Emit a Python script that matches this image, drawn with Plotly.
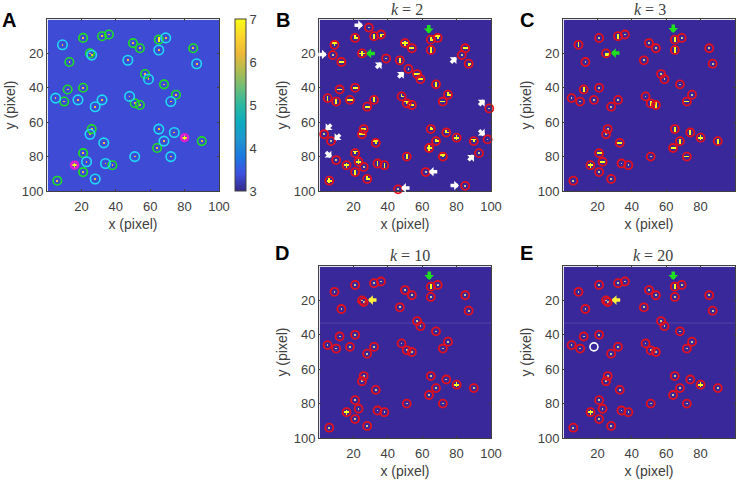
"""
Recreated five-panel spot detection figure.
"""

import plotly.graph_objects as go

# spots seen in every panel, in pixel coordinates
spot_x = [9, 21, 32, 36, 50, 54, 65, 69, 65, 85, 87, 25, 13, 47, 57, 59, 68, 75, 72, 21, 12, 5, 10, 18,
          32, 28, 48, 51, 54, 26, 25, 65, 74, 68, 80, 90, 33, 64, 21, 23, 16, 34, 38, 21, 28, 6, 51, 72]
spot_y = [15, 11, 10, 9, 14, 17, 12, 11, 18, 17, 26, 20, 25, 24, 32, 35, 38, 44, 48, 40, 41, 46, 48, 47,
          47, 51, 45, 49, 50, 64, 67, 64, 66, 71, 69, 71, 72, 75, 78, 83, 85, 84, 85, 89, 93, 94, 80, 80]
# g = green ring, c = cyan ring, m = magenta ring (panel A)
spot_kind = "cggggggccgcggcgcggcggcgccccgggccccmgcggcmcggcgcc"

stamp_b = "TL|r+-LT|-r+-|--|L---||-|-LT---LLL+TT+T++|||L+|T"
stamp_c = "|.|...|.|..#......-.|......||..|||+|----+......-"
stamp_d = "......|" + "." * 27 + "+" + "." * 5 + "+" + "." * 7

# second spot next to (25, 20), only resolved in A, D and E
close_x = 26
close_y = 21

# extra spots picked up in panel B
extra_x = [29, 8, 39, 52, 83, 99, 3, 7, 10, 26, 46, 62, 85, 98, 93]
extra_y = [5, 21, 23, 29, 21, 52, 67, 71, 82, 86, 99, 89, 97, 70, 78]

# arrow tips and directions, panel B
arrow_x = [25.6, 4.5, 36.4, 49.3, 79.9, 96.3, 3.9, 9.1, 7.2, 96.3, 90.1, 63.8, 81.4, 47.7]
arrow_y = [3.6, 20.6, 25.3, 30.8, 22.2, 47.0, 64.6, 70.4, 80.5, 67.8, 79.0, 88.8, 96.8, 98.2]
arrow_dir = ["r", "r", "ur", "ur", "ur", "ur", "dl", "dl", "dr", "dr", "ur", "l", "r", "l"]

# ring left empty in panel E
missed_x = 18
missed_y = 47
faint_row = 33

tick_vals = [20, 40, 60, 80, 100]
cbar_ticks = [3, 4, 5, 6, 7]

PARULA = [
    [0.0, "#352a87"], [0.1, "#3f50e0"], [0.2, "#1b78e0"], [0.3, "#1e96d0"],
    [0.4, "#0cacc0"], [0.5, "#2cb8a0"], [0.6, "#6cbe78"], [0.7, "#b0bc50"],
    [0.8, "#eeb838"], [0.9, "#fad52c"], [1.0, "#f9fb15"],
]
BINARY = [[0.0, "#39289a"], [0.1, "#46359f"], [0.6, "#c8c890"], [1.0, "#ffff20"]]

TEXT_COLOR = "#404040"
FONT = "Liberation Sans"
RED = "#e3101c"
GREEN = "#1fe01f"
CYAN = "#1fdcf5"
MAGENTA = "#e01fd0"
YELLOW = "#fff23c"
WHITE = "#ffffff"

STAMPS = {
    ".": [(0, 0)],
    "-": [(0, 0), (-1, 0), (1, 0)],
    "|": [(0, 0), (0, -1), (0, 1)],
    "+": [(0, 0), (-1, 0), (1, 0), (0, -1), (0, 1)],
    "T": [(0, 0), (-1, -1), (0, -1), (1, -1)],
    "L": [(0, 0), (0, -1), (1, 0)],
    "r": [(0, 0), (1, 0), (0, 1)],
    "#": [(0, 0), (1, 0), (0, 1), (1, 1)],
}
ARROW_TAIL = {
    "r": (-10, 0), "l": (10, 0), "d": (0, -10),
    "ur": (-7, 7), "dl": (7, -7), "dr": (-7, -7),
}

# x0, x1, y0, y1 of each plot frame, in page pixels
W, H = 745, 480
PANELS = {
    "A": (47, 219, 19, 191),
    "B": (319, 491, 19, 191),
    "C": (563, 735, 19, 191),
    "D": (319, 491, 266, 438),
    "E": (563, 735, 266, 438),
}


def build_image(xs, ys, stamps, base, dot, full):
    z = [[base] * 100 for _ in range(100)]
    for x, y, s in zip(xs, ys, stamps):
        value = dot if s == "." else full
        for dx, dy in STAMPS[s]:
            if 1 <= x + dx <= 100 and 1 <= y + dy <= 100:
                z[y + dy - 1][x + dx - 1] = value
    return z


def add_image(fig, idx, z, colorscale, zmin, zmax, colorbar=None):
    suffix = "" if idx == 1 else str(idx)
    fig.add_trace(
        go.Heatmap(
            x=list(range(1, 101)),
            y=list(range(1, 101)),
            z=z,
            colorscale=colorscale,
            zmin=zmin,
            zmax=zmax,
            showscale=colorbar is not None,
            colorbar=colorbar,
            hoverinfo="skip",
            xaxis="x" + suffix,
            yaxis="y" + suffix,
        )
    )


def add_rings(fig, idx, xs, ys, color, size=8, width=1.8):
    suffix = "" if idx == 1 else str(idx)
    fig.add_trace(
        go.Scatter(
            x=xs,
            y=ys,
            mode="markers",
            marker=dict(symbol="circle-open", size=size, color=color, line=dict(color=color, width=width)),
            cliponaxis=False,
            hoverinfo="skip",
            showlegend=False,
            xaxis="x" + suffix,
            yaxis="y" + suffix,
        )
    )


def arrow(idx, x, y, direction, color):
    suffix = "" if idx == 1 else str(idx)
    ax, ay = ARROW_TAIL[direction]
    return dict(
        x=x, y=y, xref="x" + suffix, yref="y" + suffix,
        ax=ax, ay=ay, axref="pixel", ayref="pixel",
        text="", showarrow=True, arrowhead=1, arrowsize=0.46, arrowwidth=3.5,
        arrowcolor=color, standoff=0,
    )


def label(px, py, text, size, bold=False, family=FONT, color="#000000"):
    return dict(
        x=px / W, y=1 - py / H, xref="paper", yref="paper",
        text=f"<b>{text}</b>" if bold else text,
        showarrow=False, xanchor="center", yanchor="middle",
        font=dict(size=size, family=family, color=color),
    )


fig = go.Figure()

# Panel A: raw frame with coloured rings
all_x = spot_x + [close_x]
all_y = spot_y + [close_y]
all_d = list(stamp_d) + ["."]
add_image(
    fig, 1, build_image(all_x, all_y, all_d, 3.35, 6.3, 7.0), PARULA, 3, 7,
    colorbar=dict(
        x=235 / W, xanchor="left", y=1 - 191 / H, yanchor="bottom", len=172 / H,
        xpad=0, ypad=0, thickness=10.5, tickvals=cbar_ticks, ticks="",
        outlinecolor=TEXT_COLOR, outlinewidth=1,
        tickfont=dict(size=13, family=FONT, color=TEXT_COLOR),
    ),
)
pts = list(zip(spot_x, spot_y, spot_kind))
add_rings(fig, 1, [p[0] for p in pts if p[2] == "g"], [p[1] for p in pts if p[2] == "g"], GREEN, size=8.5, width=1.6)
add_rings(fig, 1, [p[0] for p in pts if p[2] == "c"] + [close_x], [p[1] for p in pts if p[2] == "c"] + [close_y], CYAN, size=9.5, width=1.6)
add_rings(fig, 1, [p[0] for p in pts if p[2] == "m"], [p[1] for p in pts if p[2] == "m"], MAGENTA, size=7, width=2.5)

# Panel B: k = 2
b_z = build_image(spot_x + extra_x, spot_y + extra_y, list(stamp_b) + ["."] * len(extra_x), 0, 0.6, 1)
add_image(fig, 2, b_z, BINARY, 0, 1)
add_rings(fig, 2, spot_x + extra_x, spot_y + extra_y, RED)

# Panel C: k = 3
add_image(fig, 3, build_image(spot_x, spot_y, stamp_c, 0, 0.6, 1), BINARY, 0, 1)
add_rings(fig, 3, spot_x, spot_y, RED)

# Panel D: k = 10, with the faint row across the frame
d_z = build_image(all_x, all_y, all_d, 0, 0.6, 1)
d_z[faint_row - 1] = [max(v, 0.1) for v in d_z[faint_row - 1]]
add_image(fig, 4, d_z, BINARY, 0, 1)
add_rings(fig, 4, all_x, all_y, RED)

# Panel E: k = 20, one spot lost
e_pts = [p for p in zip(all_x, all_y, all_d) if (p[0], p[1]) != (missed_x, missed_y)]
e_z = build_image([p[0] for p in e_pts], [p[1] for p in e_pts], [p[2] for p in e_pts], 0, 0.6, 1)
e_z[faint_row - 1] = [max(v, 0.1) for v in e_z[faint_row - 1]]
add_image(fig, 5, e_z, BINARY, 0, 1)
add_rings(fig, 5, [p[0] for p in e_pts], [p[1] for p in e_pts], RED)
add_rings(fig, 5, [missed_x], [missed_y], WHITE, size=8, width=1.6)

layout = dict(
    width=W,
    height=H,
    margin=dict(l=0, r=0, t=0, b=0, autoexpand=False),
    paper_bgcolor="white",
    plot_bgcolor="white",
    showlegend=False,
    font=dict(family=FONT, color=TEXT_COLOR),
)
for idx, name in enumerate(PANELS, start=1):
    x0, x1, y0, y1 = PANELS[name]
    suffix = "" if idx == 1 else str(idx)
    axis = dict(
        range=[0, 100],
        automargin=False,
        tickvals=tick_vals,
        ticks="inside",
        ticklen=2,
        tickcolor=TEXT_COLOR,
        showline=True,
        linecolor=TEXT_COLOR,
        linewidth=1,
        mirror="ticks",
        showgrid=False,
        zeroline=False,
        tickfont=dict(size=13, family=FONT, color=TEXT_COLOR),
        title_font=dict(size=14, family=FONT, color=TEXT_COLOR),
    )
    layout["xaxis" + suffix] = dict(
        axis, domain=[x0 / W, x1 / W], anchor="y" + suffix, ticklabelstandoff=3,
        title=dict(text="x (pixel)", standoff=6),
    )
    layout["yaxis" + suffix] = dict(
        axis, domain=[1 - y1 / H, 1 - y0 / H], anchor="x" + suffix, range=[100, 0],
        title=dict(text="y (pixel)", standoff=2),
    )

annotations = [
    label(9, 20, "A", 20, bold=True),
    label(283, 20, "B", 20, bold=True),
    label(527, 20, "C", 20, bold=True),
    label(282, 253, "D", 20, bold=True),
    label(526, 253, "E", 20, bold=True),
    label(407, 9, "<i>k</i> = 2", 16, family="Liberation Serif", color=TEXT_COLOR),
    label(650, 9, "<i>k</i> = 3", 16, family="Liberation Serif", color=TEXT_COLOR),
    label(410, 255, "<i>k</i> = 10", 16, family="Liberation Serif", color=TEXT_COLOR),
    label(653, 255, "<i>k</i> = 20", 16, family="Liberation Serif", color=TEXT_COLOR),
]
for x, y, d in zip(arrow_x, arrow_y, arrow_dir):
    annotations.append(arrow(2, x, y, d, WHITE))
annotations += [
    arrow(2, 63.8, 8.4, "d", GREEN),
    arrow(2, 27.5, 20, "l", GREEN),
    arrow(3, 64.1, 8.1, "d", GREEN),
    arrow(3, 27.9, 19.8, "l", GREEN),
    arrow(4, 64.1, 8.1, "d", GREEN),
    arrow(4, 28.5, 19.8, "l", YELLOW),
    arrow(5, 64.1, 8.1, "d", GREEN),
    arrow(5, 28.3, 19.8, "l", YELLOW),
]
layout["annotations"] = annotations

fig.update_layout(**layout)
fig.write_html("out.html", config=dict(displayModeBar=False), post_script="document.body.style.margin='0';")
